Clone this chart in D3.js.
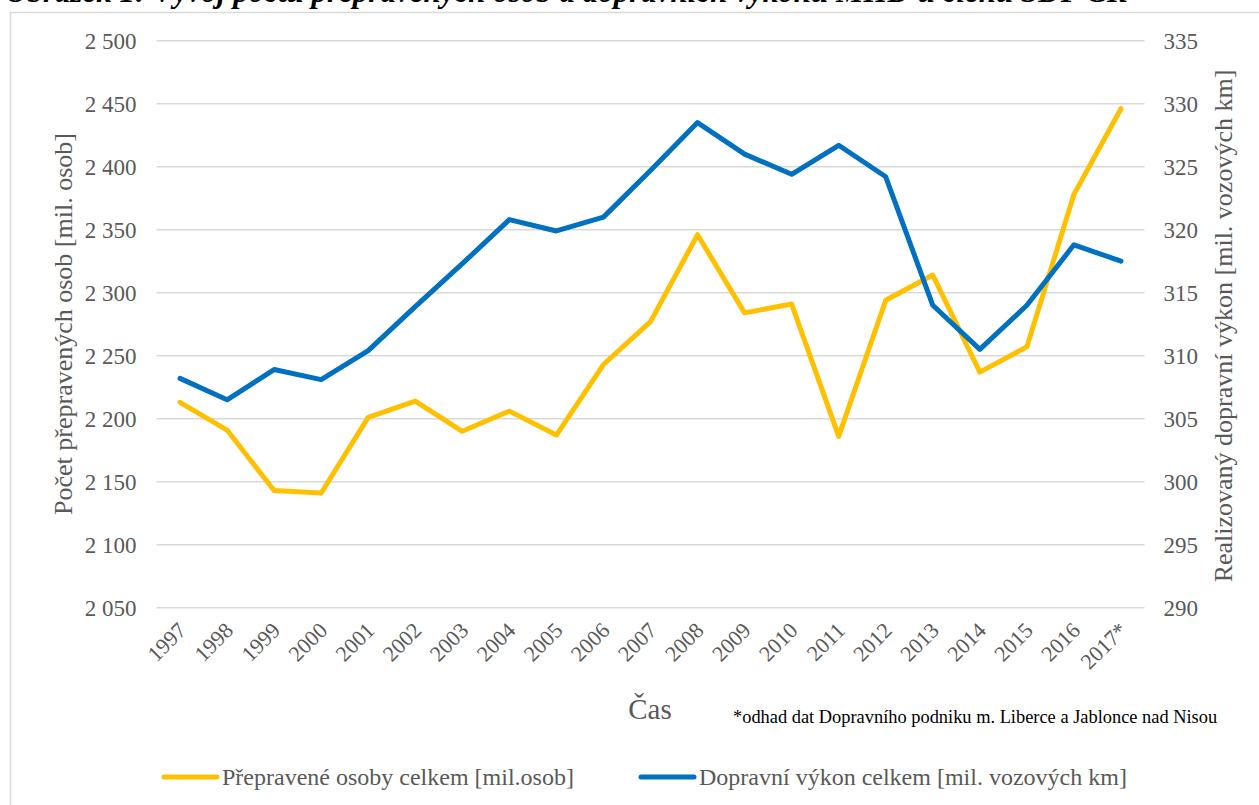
<!DOCTYPE html>
<html>
<head>
<meta charset="utf-8">
<script src="https://cdn.jsdelivr.net/npm/d3@7"></script>
<style>
  html, body { margin: 0; padding: 0; background: #fff; }
  svg { display: block; }
  text { font-family: "Liberation Serif", "Times New Roman", serif; fill: #595959; }
</style>
</head>
<body>
<svg id="chart" width="1259" height="805"></svg>
<script>
// Years (2017 is an estimate)
const years = ["1997","1998","1999","2000","2001","2002","2003","2004","2005","2006",
               "2007","2008","2009","2010","2011","2012","2013","2014","2015","2016","2017*"];

// Passengers carried, million persons (left axis)
const passengers = [2213, 2191, 2143, 2141, 2201, 2214, 2190, 2206, 2187, 2243,
                    2277, 2346, 2284, 2291, 2186, 2294, 2314, 2237, 2257, 2378, 2446];

// Transport performance, million vehicle-km (right axis)
const performance = [308.2, 306.5, 308.9, 308.1, 310.4, 313.9, 317.3, 320.8, 319.9, 321.0,
                     324.7, 328.5, 326.0, 324.4, 326.7, 324.2, 314.0, 310.5, 314.0, 318.8, 317.5];

const leftTicks = [2050, 2100, 2150, 2200, 2250, 2300, 2350, 2400, 2450, 2500];
const rightTicks = [290, 295, 300, 305, 310, 315, 320, 325, 330, 335];

const seriesNames = ["Přepravené osoby celkem [mil.osob]",
                     "Dopravní výkon celkem [mil. vozových km]"];

const svg = d3.select("#chart");
const plot = { left: 156.5, right: 1144.5, top: 40.7, bottom: 607.7 };
const colors = { yellow: "#FFC000", blue: "#0070C0", grid: "#d9d9d9" };
const serif = "Liberation Serif, serif";

// Caption above the chart frame (clipped by the page edge)
svg.append("text")
  .attr("x", 5).attr("y", 2)
  .style("font-size", "31px").style("font-weight", "bold").style("font-style", "italic")
  .style("fill", "#000")
  .text("Obrázek 1: Vývoj počtu přepravených osob a dopravních výkonů MHD u členů SDP ČR");

// Chart frame
svg.append("path")
  .attr("d", "M10.5,810 V12.5 H1265")
  .attr("fill", "none").attr("stroke", colors.grid).attr("stroke-width", 1.5);

const x = d3.scalePoint().domain(years).range([plot.left, plot.right]).padding(0.5);
const yL = d3.scaleLinear().domain([2050, 2500]).range([plot.bottom, plot.top]);
const yR = d3.scaleLinear().domain([290, 335]).range([plot.bottom, plot.top]);

// Horizontal gridlines
svg.append("g")
  .selectAll("line").data(leftTicks).join("line")
  .attr("x1", plot.left).attr("x2", plot.right)
  .attr("y1", d => yL(d)).attr("y2", d => yL(d))
  .attr("stroke", colors.grid).attr("stroke-width", 1.5);

const fmtLeft = d => d3.format(",")(d).replace(",", " ");

// Left axis labels
const axL = svg.append("g").attr("transform", `translate(${plot.left},0)`)
  .call(d3.axisLeft(yL).tickValues(leftTicks).tickFormat(fmtLeft).tickSize(0).tickPadding(20));
axL.select(".domain").remove();
axL.selectAll("text").style("font-size", "23px").style("fill", "#595959")
  .style("font-family", serif);

// Right axis labels
const axR = svg.append("g").attr("transform", `translate(${plot.right},0)`)
  .call(d3.axisRight(yR).tickValues(rightTicks).tickSize(0).tickPadding(19));
axR.select(".domain").remove();
axR.selectAll("text").style("font-size", "23px").style("fill", "#595959")
  .style("font-family", serif);

// Category labels, rotated
const axX = svg.append("g").attr("transform", `translate(0,${plot.bottom})`)
  .call(d3.axisBottom(x).tickSize(0).tickPadding(0));
axX.select(".domain").remove();
axX.selectAll("text")
  .style("font-size", "22px").style("fill", "#595959")
  .style("font-family", serif)
  .attr("text-anchor", "end")
  .attr("dy", null).attr("y", 0)
  .attr("transform", "translate(7,24) rotate(-45)");

// Axis titles
svg.append("text")
  .attr("transform", "translate(72,324) rotate(-90)")
  .attr("text-anchor", "middle")
  .style("font-size", "26px")
  .text("Počet přepravených osob [mil. osob]");

svg.append("text")
  .attr("transform", "translate(1232,326) rotate(-90)")
  .attr("text-anchor", "middle")
  .style("font-size", "26px")
  .text("Realizovaný dopravní výkon [mil. vozových km]");

svg.append("text")
  .attr("x", 650).attr("y", 719)
  .attr("text-anchor", "middle")
  .style("font-size", "29px")
  .text("Čas");

svg.append("text")
  .attr("x", 733).attr("y", 723)
  .style("font-size", "18.4px").style("fill", "#000")
  .text("*odhad dat Dopravního podniku m. Liberce a Jablonce nad Nisou");

// Series lines
const lineL = d3.line().x((d, i) => x(years[i])).y(d => yL(d));
const lineR = d3.line().x((d, i) => x(years[i])).y(d => yR(d));

svg.append("path").datum(passengers)
  .attr("d", lineL).attr("fill", "none")
  .attr("stroke", colors.yellow).attr("stroke-width", 5)
  .attr("stroke-linejoin", "round").attr("stroke-linecap", "round");

svg.append("path").datum(performance)
  .attr("d", lineR).attr("fill", "none")
  .attr("stroke", colors.blue).attr("stroke-width", 5)
  .attr("stroke-linejoin", "round").attr("stroke-linecap", "round");

// Legend
const legendItems = [
  { name: seriesNames[0], color: colors.yellow, x: 164 },
  { name: seriesNames[1], color: colors.blue, x: 641 }
];
const lg = svg.append("g").selectAll("g").data(legendItems).join("g")
  .attr("transform", d => `translate(${d.x},777)`);
lg.append("line").attr("x1", 0).attr("x2", 53).attr("y1", 0).attr("y2", 0)
  .attr("stroke", d => d.color).attr("stroke-width", 5).attr("stroke-linecap", "round");
lg.append("text").attr("x", 58).attr("y", 8)
  .style("font-size", "24px")
  .text(d => d.name);
</script>
</body>
</html>
